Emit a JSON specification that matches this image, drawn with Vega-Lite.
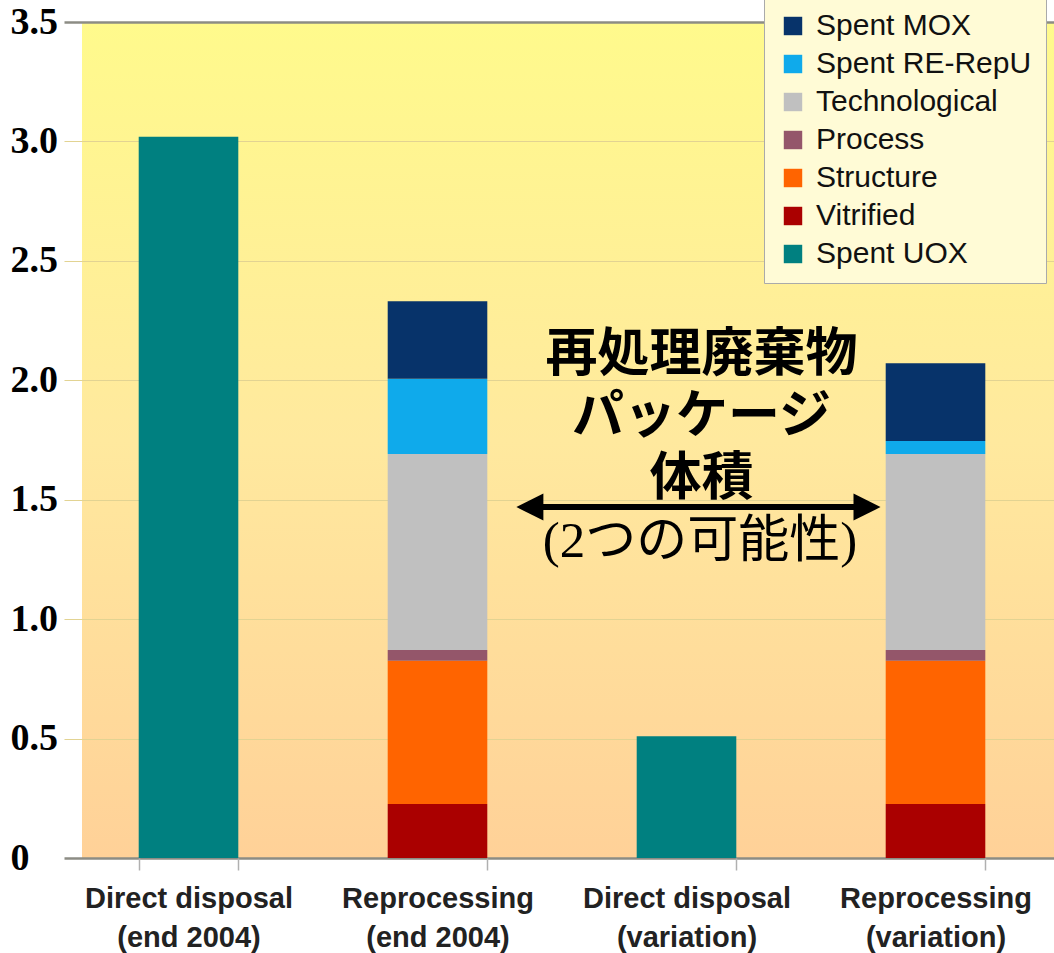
{
  "$schema": "https://vega.github.io/schema/vega-lite/v6.json",
  "width": 972,
  "height": 836,
  "autosize": {"type": "none"},
  "padding": {"left": 82, "top": 22, "right": 0, "bottom": 95},
  "background": "white",
  "view": {
    "stroke": null,
    "fill": {
      "gradient": "linear",
      "x1": 0, "y1": 0, "x2": 0, "y2": 1,
      "stops": [
        {"offset": 0, "color": "#fffa8c"},
        {"offset": 0.5, "color": "#ffe99e"},
        {"offset": 1, "color": "#ffd198"}
      ]
    }
  },
  "datasets": {
    "bars": [
      {"cat": "Direct disposal|(end 2004)", "comp": "Spent UOX", "ord": 0, "v": 3.02},
      {"cat": "Reprocessing|(end 2004)", "comp": "Vitrified", "ord": 1, "v": 0.226},
      {"cat": "Reprocessing|(end 2004)", "comp": "Structure", "ord": 2, "v": 0.6},
      {"cat": "Reprocessing|(end 2004)", "comp": "Process", "ord": 3, "v": 0.045},
      {"cat": "Reprocessing|(end 2004)", "comp": "Technological", "ord": 4, "v": 0.82},
      {"cat": "Reprocessing|(end 2004)", "comp": "Spent RE-RepU", "ord": 5, "v": 0.315},
      {"cat": "Reprocessing|(end 2004)", "comp": "Spent MOX", "ord": 6, "v": 0.325},
      {"cat": "Direct disposal|(variation)", "comp": "Spent UOX", "ord": 0, "v": 0.51},
      {"cat": "Reprocessing|(variation)", "comp": "Vitrified", "ord": 1, "v": 0.226},
      {"cat": "Reprocessing|(variation)", "comp": "Structure", "ord": 2, "v": 0.6},
      {"cat": "Reprocessing|(variation)", "comp": "Process", "ord": 3, "v": 0.045},
      {"cat": "Reprocessing|(variation)", "comp": "Technological", "ord": 4, "v": 0.82},
      {"cat": "Reprocessing|(variation)", "comp": "Spent RE-RepU", "ord": 5, "v": 0.055},
      {"cat": "Reprocessing|(variation)", "comp": "Spent MOX", "ord": 6, "v": 0.325}
    ],
    "arrow": [{"ax": 1.871, "ax2": 3.225, "ay": 1.469}],
    "heads": [
      {"ax": 1.871, "ay": 1.469, "dir": "left"},
      {"ax": 3.225, "ay": 1.469, "dir": "right"}
    ],
    "titles": [
      {"ax": 2.56, "ay": 2.105, "t": "再処理廃棄物\nパッケージ\n体積"}
    ],
    "sub": [{"ax": 2.554, "ay": 1.323, "t": "(2つの可能性)"}]
  },
  "layer": [
    {
      "data": {"name": "bars"},
      "mark": {"type": "bar"},
      "encoding": {
        "x": {
          "field": "cat",
          "type": "nominal",
          "sort": null,
          "scale": {"range": [-18, 978], "paddingInner": 0.6, "paddingOuter": 0.3},
          "axis": {
            "title": null,
            "labelAngle": 0,
            "labelExpr": "split(datum.label, '|')",
            "labelFont": "Liberation Sans",
            "labelFontWeight": "bold",
            "labelFontSize": 29,
            "labelColor": "#222222",
            "labelLineHeight": 39,
            "labelPadding": 14,
            "labelBaseline": "top",
            "labelLimit": 0,
            "tickBand": "extent",
            "tickSize": 12,
            "tickColor": "#b0b0b0",
            "tickWidth": 1.5,
            "domain": false,
            "grid": false
          }
        },
        "y": {
          "field": "v",
          "type": "quantitative",
          "stack": "zero",
          "scale": {"domain": [0, 3.5], "nice": false},
          "axis": {
            "title": null,
            "values": [0, 0.5, 1, 1.5, 2, 2.5, 3, 3.5],
            "labelExpr": "datum.value === 0 ? '0' : format(datum.value, '.1f')",
            "labelFont": "Liberation Serif",
            "labelFontWeight": "bold",
            "labelFontSize": 38,
            "labelColor": "#000000",
            "labelAlign": "left",
            "labelBaseline": "middle",
            "labelPadding": 72,
            "ticks": false,
            "domain": false,
            "grid": true,
            "gridColor": {"condition": {"test": "datum.value === 3.5 || datum.value === 0", "value": "#8c8c84"}, "value": "#e2d392"},
            "gridWidth": {"condition": {"test": "datum.value === 3.5 || datum.value === 0", "value": 2.5}, "value": 1.2}
          }
        },
        "color": {
          "field": "comp",
          "type": "nominal",
          "scale": {
            "domain": ["Spent MOX", "Spent RE-RepU", "Technological", "Process", "Structure", "Vitrified", "Spent UOX"],
            "range": ["#07336a", "#0faaeb", "#c0c0c0", "#94566a", "#ff6400", "#aa0000", "#008080"]
          },
          "legend": {
            "title": null,
            "orient": "none",
            "legendX": 682,
            "legendY": -25,
            "fillColor": "#fffbd6",
            "strokeColor": "#aaaaaa",
            "padding": 14,
            "symbolType": "square",
            "symbolSize": 340,
            "symbolStrokeWidth": 0,
            "symbolOpacity": 1,
            "labelFont": "Liberation Sans",
            "labelFontSize": 30,
            "labelColor": "#111111",
            "labelOffset": 8,
            "rowPadding": 8,
            "labelLimit": 400
          }
        },
        "order": {"field": "ord", "type": "quantitative"}
      }
    },
    {
      "data": {"name": "arrow"},
      "mark": {"type": "rule", "strokeWidth": 6, "color": "#000000"},
      "encoding": {
        "x": {"field": "ax", "type": "quantitative", "scale": {"domain": [0, 4], "range": [-18, 978], "nice": false, "zero": false}, "axis": null},
        "x2": {"field": "ax2"},
        "y": {"field": "ay", "type": "quantitative"}
      }
    },
    {
      "data": {"name": "heads"},
      "mark": {"type": "point", "filled": true, "opacity": 1, "color": "#000000", "size": 729},
      "encoding": {
        "x": {"field": "ax", "type": "quantitative", "scale": {"domain": [0, 4], "range": [-18, 978], "nice": false, "zero": false}, "axis": null},
        "y": {"field": "ay", "type": "quantitative"},
        "shape": {
          "field": "dir",
          "type": "nominal",
          "scale": {"domain": ["left", "right"], "range": ["M-1,0L1,-1L1,1Z", "M1,0L-1,-1L-1,1Z"]},
          "legend": null
        }
      }
    },
    {
      "data": {"name": "titles"},
      "mark": {"type": "text", "font": "Noto Sans CJK JP", "fontWeight": "bold", "fontSize": 52, "lineHeight": 62, "lineBreak": "\n", "color": "#000000", "align": "center", "baseline": "middle"},
      "encoding": {
        "x": {"field": "ax", "type": "quantitative", "scale": {"domain": [0, 4], "range": [-18, 978], "nice": false, "zero": false}, "axis": null},
        "y": {"field": "ay", "type": "quantitative"},
        "text": {"field": "t"}
      }
    },
    {
      "data": {"name": "sub"},
      "mark": {"type": "text", "font": "Liberation Serif, Noto Sans CJK JP", "fontWeight": "normal", "fontSize": 51, "color": "#000000", "align": "center", "baseline": "middle"},
      "encoding": {
        "x": {"field": "ax", "type": "quantitative", "scale": {"domain": [0, 4], "range": [-18, 978], "nice": false, "zero": false}, "axis": null},
        "y": {"field": "ay", "type": "quantitative"},
        "text": {"field": "t"}
      }
    }
  ],
  "resolve": {"scale": {"x": "independent", "shape": "independent", "color": "independent"}},
  "config": {
    "font": "Liberation Sans"
  }
}
